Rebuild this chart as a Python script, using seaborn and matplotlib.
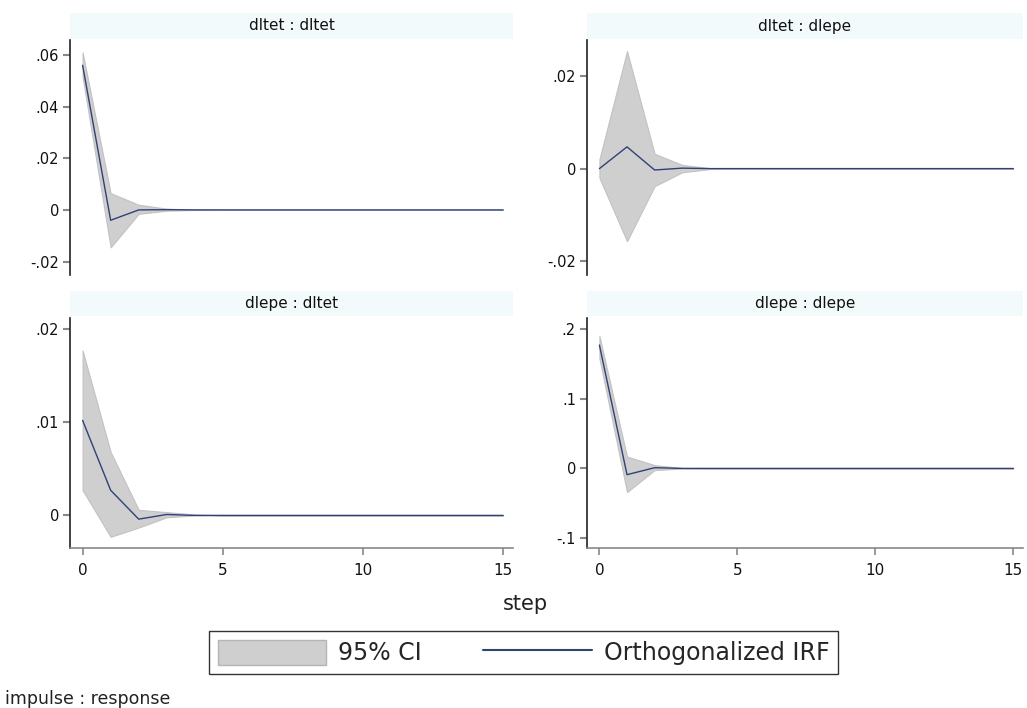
import numpy as np
import pandas as pd
import seaborn as sns
import matplotlib.pyplot as plt
from matplotlib.patches import Rectangle, Patch
from matplotlib.lines import Line2D
from matplotlib.ticker import FuncFormatter

sns.set_theme(style="white")
plt.rcParams['font.family'] = ['DejaVu Sans']

# impulse response values (steps 0..15)
steps = list(range(16))

# dltet : dltet
irf_tt = [0.056, -0.004, 0.0, 0.0001, 0, 0, 0, 0, 0, 0, 0, 0, 0, 0, 0, 0]
lo_tt = [0.0515, -0.0145, -0.0015, -0.0003, 0, 0, 0, 0, 0, 0, 0, 0, 0, 0, 0, 0]
hi_tt = [0.061, 0.0065, 0.002, 0.0005, 0.0001, 0, 0, 0, 0, 0, 0, 0, 0, 0, 0, 0]

# dltet : dlepe
irf_tp = [0.0, 0.0047, -0.0003, 0.0001, 0, 0, 0, 0, 0, 0, 0, 0, 0, 0, 0, 0]
lo_tp = [-0.002, -0.0157, -0.0038, -0.0008, -0.0001, 0, 0, 0, 0, 0, 0, 0, 0, 0, 0, 0]
hi_tp = [0.002, 0.0254, 0.0032, 0.0008, 0.0001, 0, 0, 0, 0, 0, 0, 0, 0, 0, 0, 0]

# dlepe : dltet
irf_pt = [0.0102, 0.0027, -0.0004, 0.0001, 0, 0, 0, 0, 0, 0, 0, 0, 0, 0, 0, 0]
lo_pt = [0.0027, -0.0023, -0.0013, -0.0002, 0, 0, 0, 0, 0, 0, 0, 0, 0, 0, 0, 0]
hi_pt = [0.0177, 0.0068, 0.0006, 0.00035, 0.0001, 0, 0, 0, 0, 0, 0, 0, 0, 0, 0, 0]

# dlepe : dlepe
irf_pp = [0.177, -0.009, 0.001, 0.0, 0, 0, 0, 0, 0, 0, 0, 0, 0, 0, 0, 0]
lo_pp = [0.158, -0.034, -0.0024, -0.0003, 0, 0, 0, 0, 0, 0, 0, 0, 0, 0, 0, 0]
hi_pp = [0.19, 0.017, 0.0047, 0.0006, 0, 0, 0, 0, 0, 0, 0, 0, 0, 0, 0, 0]

titles = ['dltet : dltet', 'dltet : dlepe', 'dlepe : dltet', 'dlepe : dlepe']
yticks = [[-0.02, 0, 0.02, 0.04, 0.06], [-0.02, 0, 0.02], [0, 0.01, 0.02], [-0.1, 0, 0.1, 0.2]]
ylims = [(-0.0252, 0.0658), (-0.0230, 0.0278), (-0.0035, 0.0212), (-0.1142, 0.2158)]

panels = [(irf_tt, lo_tt, hi_tt), (irf_tp, lo_tp, hi_tp),
          (irf_pt, lo_pt, hi_pt), (irf_pp, lo_pp, hi_pp)]

W, H = 1027, 708
navy = '#2f4275'
band = '#cfcfcf'
strip = '#f3fafb'

def stata_fmt(v, pos):
    if abs(v) < 1e-12:
        return '0'
    s = ('%g' % v)
    return s.replace('0.', '.')

fig = plt.figure(figsize=(W / 100, H / 100), dpi=100)

# axes boxes in pixels: left, top, right, bottom
boxes = [(70, 40, 513, 275), (587, 40, 1023, 275),
         (70, 318, 513, 548), (587, 318, 1023, 548)]

for i, (box, (irf, lo, hi)) in enumerate(zip(boxes, panels)):
    l, t, r, b = box
    ax = fig.add_axes([l / W, 1 - b / H, (r - l) / W, (b - t) / H])
    ax.fill_between(steps, lo, hi, color=band, edgecolor='#c2c2c2', lw=0.8, zorder=1)
    df = pd.DataFrame({'step': steps, 'irf': irf})
    sns.lineplot(data=df, x='step', y='irf', ax=ax, color=navy, lw=1.0, zorder=2)
    ax.set_xlim(-0.45, 15.35)
    ax.set_ylim(*ylims[i])
    ax.set_yticks(yticks[i])
    ax.yaxis.set_major_formatter(FuncFormatter(stata_fmt))
    ax.set_xlabel('')
    ax.set_ylabel('')
    for s in ['top', 'right']:
        ax.spines[s].set_visible(False)
    ax.spines['left'].set_color('#222222')
    ax.spines['left'].set_linewidth(1.2)
    ax.tick_params(axis='y', direction='out', length=5, width=1.5, color='#888888',
                   labelsize=10.5, left=True, pad=3, labelcolor='#111111')
    if i < 2:
        ax.spines['bottom'].set_visible(False)
        ax.set_xticks([])
    else:
        ax.spines['bottom'].set_color('#888888')
        ax.spines['bottom'].set_linewidth(1.2)
        ax.set_xticks([0, 5, 10, 15])
        ax.tick_params(axis='x', direction='out', length=5, width=1.2, color='#888888',
                       labelsize=11, bottom=True, pad=6, labelcolor='#111111')
    # title strip
    sh = 25 / (b - t)
    ax.add_patch(Rectangle((0, 1 + 1.5 / (b - t)), 1, sh, transform=ax.transAxes,
                           facecolor=strip, edgecolor='none', clip_on=False))
    ax.text(0.5, 1 + 1.5 / (b - t) + sh / 2, titles[i], transform=ax.transAxes,
            ha='center', va='center', fontsize=11, color='#111111')

fig.text(525 / W, 1 - 604 / H, 'step', ha='center', va='center', fontsize=15, color='#222222')
fig.text(5 / W, 1 - 699 / H, 'impulse : response', ha='left', va='center', fontsize=12.5,
         color='#222222')

handles = [Patch(facecolor=band, edgecolor='#b5b5b5', lw=1.0),
           Line2D([0], [0], color=navy, lw=1.5)]
leg = fig.legend(handles, ['95% CI', 'Orthogonalized IRF'], loc='center',
                 bbox_to_anchor=(523.5 / W, 1 - 652.5 / H), ncol=2, fontsize=17,
                 frameon=True, fancybox=False, edgecolor='#333333', framealpha=1,
                 handlelength=4.6, handleheight=1.3, handletextpad=0.5,
                 columnspacing=2.6, borderpad=0.35, borderaxespad=0)
leg.get_frame().set_linewidth(1.0)

fig.savefig('out.png', dpi=100, facecolor='white')
